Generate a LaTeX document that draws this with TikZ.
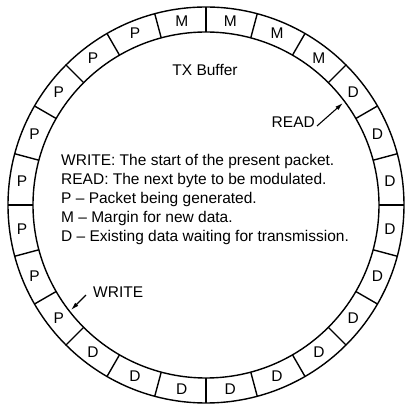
\documentclass[tikz,border=0pt]{standalone}
\usepackage{fontspec}
\setmainfont{Liberation Sans}
\usetikzlibrary{arrows.meta}
\begin{document}
\begin{tikzpicture}[x=1pt,y=1pt,
  font=\fontsize{15.5}{19}\selectfont,
  every node/.style={inner sep=0pt},
  ring/.style={line width=1.4pt},
  ptr/.style={line width=1.1pt,-{Latex[length=8pt,width=4.5pt]}}]
\useasboundingbox (-206,-207) rectangle (207,205);
\draw[ring] (0,0) circle (198);
\draw[ring] (0,0) circle (173);
\foreach \i in {0,...,23} \draw[ring] (\i*15:173) -- (\i*15:198);
\foreach \l [count=\k from 0] in {D,D,D,M,M,M,M,P,P,P,P,P,P,P,P,D,D,D,D,D,D,D,D,D}
  \node (seg\k) at (7.5+15*\k:185.5) {\l};
\node[anchor=base] (title) at (-1,129) {TX Buffer};
\node[anchor=base east] (readlbl) at (109,77) {READ};
\coordinate (readtip) at (137,102);
\draw[ptr] ([shift={(2,2)}]readlbl.base east) -- (readtip);
\node[anchor=base west] (writelbl) at (-113,-93) {WRITE};
\coordinate (writetip) at (-135,-105);
\draw[ptr] ([shift={(-7,3)}]writelbl.base west) -- (writetip);
\node[anchor=base west] (leg1) at (-145,39.3) {WRITE: The start of the present packet.};
\node[anchor=base west] (leg2) at (-145,20.3) {READ: The next byte to be modulated.};
\node[anchor=base west] (leg3) at (-145,1.3) {P -- Packet being generated.};
\node[anchor=base west] (leg4) at (-145,-17.7) {M -- Margin for new data.};
\node[anchor=base west] (leg5) at (-145,-36.7) {D -- Existing data waiting for transmission.};
\end{tikzpicture}
\end{document}
